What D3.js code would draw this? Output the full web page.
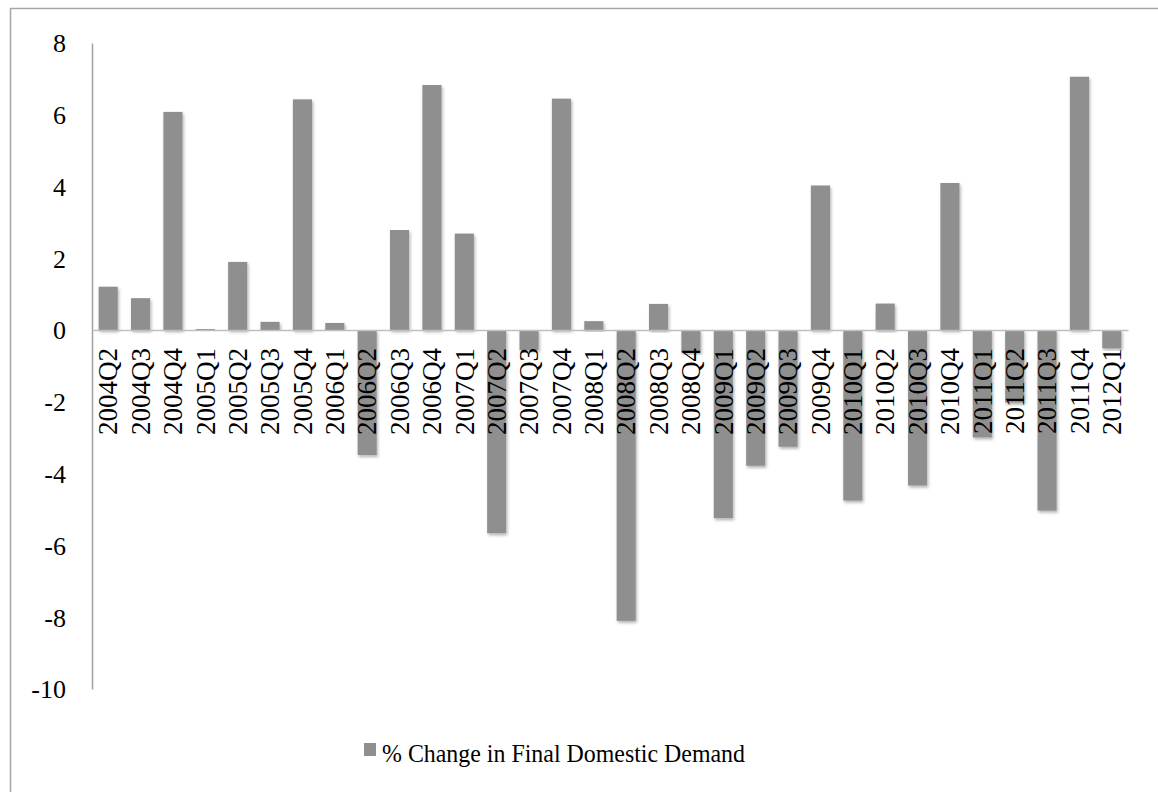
<!DOCTYPE html>
<html>
<head>
<meta charset="utf-8">
<script src="https://cdn.jsdelivr.net/npm/d3@7"></script>
<style>
  html, body { margin: 0; padding: 0; background: #fff; }
  svg { display: block; }
</style>
</head>
<body>
<svg id="chart" width="1158" height="792"></svg>
<script>
(function () {
  'use strict';

  // quarters on the x axis
  var quarters = [
    "2004Q2", "2004Q3", "2004Q4", "2005Q1", "2005Q2", "2005Q3", "2005Q4", "2006Q1",
    "2006Q2", "2006Q3", "2006Q4", "2007Q1", "2007Q2", "2007Q3", "2007Q4", "2008Q1",
    "2008Q2", "2008Q3", "2008Q4", "2009Q1", "2009Q2", "2009Q3", "2009Q4", "2010Q1",
    "2010Q2", "2010Q3", "2010Q4", "2011Q1", "2011Q2", "2011Q3", "2011Q4", "2012Q1"
  ];

  // % change in final domestic demand
  var changeValues = [
    1.21, 0.89, 6.08, 0.03, 1.90, 0.23, 6.43, 0.20,
    -3.48, 2.79, 6.83, 2.69, -5.66, -0.56, 6.45, 0.25,
    -8.10, 0.73, -0.63, -5.24, -3.78, -3.25, 4.03, -4.75,
    0.74, -4.33, 4.10, -2.99, -2.02, -5.03, 7.06, -0.51
  ];

  var yTicks = [8, 6, 4, 2, 0, -2, -4, -6, -8, -10];
  var seriesName = "% Change in Final Domestic Demand";

  var fontFamily = "'Liberation Serif', 'DejaVu Serif', serif";
  var barColor = "#8f8f8f";

  var svg = d3.select("#chart");

  // outer chart frame (runs off the right and bottom edge)
  svg.append("rect")
    .attr("x", 10.5)
    .attr("y", 8.5)
    .attr("width", 1160)
    .attr("height", 800)
    .attr("fill", "none")
    .attr("stroke", "#a6a6a6")
    .attr("stroke-width", 1.5);

  var defs = svg.append("defs");
  var shadow = defs.append("filter")
    .attr("id", "barShadow")
    .attr("x", "-30%").attr("y", "-10%")
    .attr("width", "160%").attr("height", "120%");
  shadow.append("feDropShadow")
    .attr("dx", 1.2)
    .attr("dy", 2)
    .attr("stdDeviation", 1.4)
    .attr("flood-color", "#000")
    .attr("flood-opacity", 0.3);

  var x = d3.scaleBand()
    .domain(quarters)
    .range([92, 1128])
    .paddingInner(0.41)
    .paddingOuter(0.205);

  var y = d3.scaleLinear()
    .domain([-10, 8])
    .range([689, 43]);

  // bars
  svg.append("g")
    .selectAll("rect")
    .data(changeValues)
    .join("rect")
    .attr("x", function (d, i) { return x(quarters[i]); })
    .attr("y", function (d) { return y(Math.max(0, d)); })
    .attr("width", x.bandwidth())
    .attr("height", function (d) { return Math.abs(y(d) - y(0)); })
    .attr("fill", barColor)
    .attr("filter", "url(#barShadow)");

  // y axis line and labels (plain hyphen for negatives, as in the original)
  var yAxis = d3.axisLeft(y)
    .tickValues(yTicks)
    .tickSize(0)
    .tickPadding(26)
    .tickFormat(function (d) { return String(d); });

  var yg = svg.append("g")
    .attr("transform", "translate(92,0)")
    .call(yAxis);
  yg.select(".domain")
    .attr("stroke", "#a0a0a0")
    .attr("stroke-width", 1.5);
  yg.selectAll("text")
    .attr("font-family", fontFamily)
    .attr("font-size", 26)
    .attr("fill", "#000")
    .attr("dy", "0.34em");

  // zero line with category labels
  var xAxis = d3.axisBottom(x)
    .tickSize(0)
    .tickPadding(0);

  var xg = svg.append("g")
    .attr("transform", "translate(0," + y(0) + ")")
    .call(xAxis);
  xg.select(".domain")
    .attr("stroke", "#bfbfbf")
    .attr("stroke-width", 1.5);
  xg.selectAll("text")
    .attr("font-family", fontFamily)
    .attr("font-size", 27)
    .attr("fill", "#000")
    .attr("text-anchor", "end")
    .attr("transform", "rotate(-90)")
    .attr("x", -18)
    .attr("y", 0)
    .attr("dy", "0.34em");

  // legend
  var legend = svg.append("g").attr("transform", "translate(364,743)");
  legend.append("rect")
    .attr("width", 12)
    .attr("height", 13)
    .attr("fill", barColor);
  legend.append("text")
    .attr("x", 18)
    .attr("y", 19)
    .attr("font-family", fontFamily)
    .attr("font-size", 26)
    .attr("fill", "#000")
    .attr("textLength", 363)
    .attr("lengthAdjust", "spacingAndGlyphs")
    .text(seriesName);
})();
</script>
</body>
</html>
